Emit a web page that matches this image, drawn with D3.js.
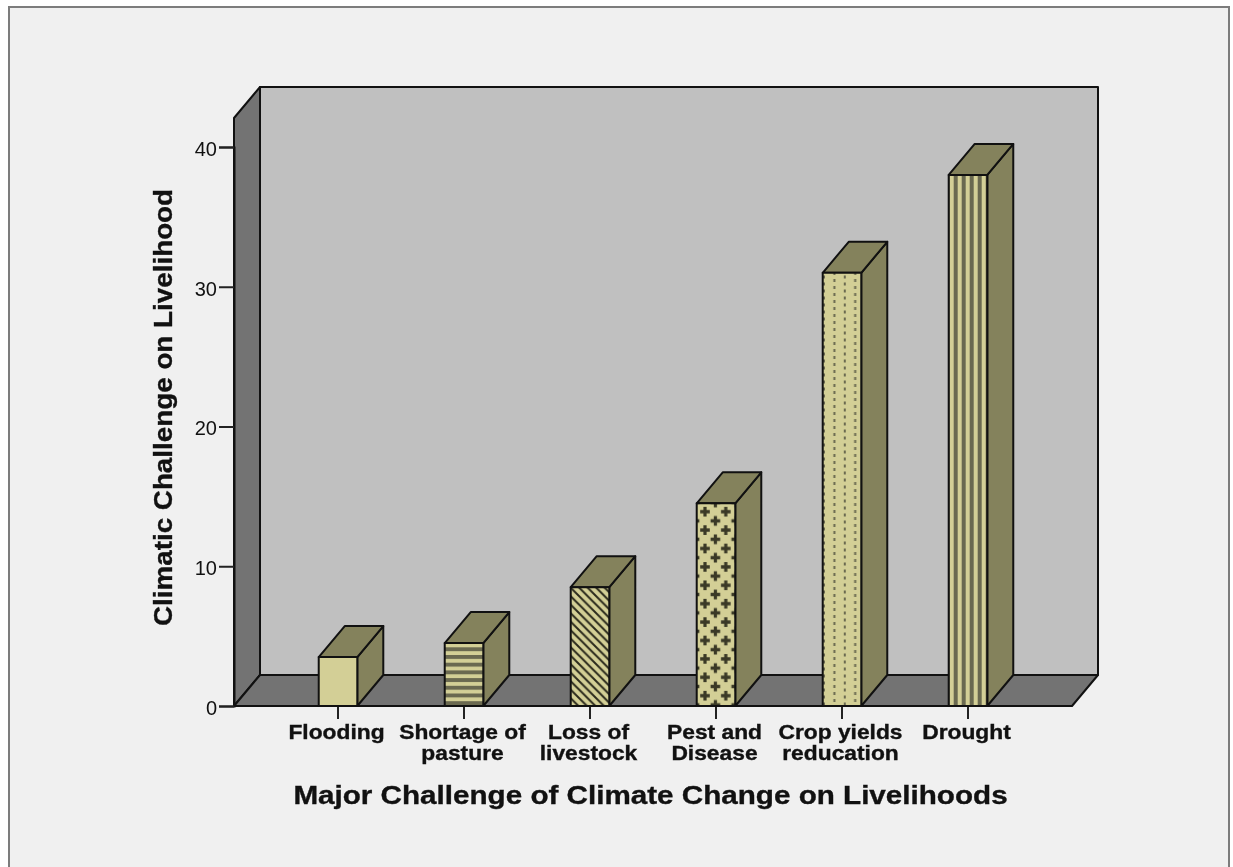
<!DOCTYPE html>
<html><head><meta charset="utf-8">
<script src="https://cdn.jsdelivr.net/npm/d3@7"></script>
<style>html,body{margin:0;padding:0;background:#fff}svg{display:block;filter:blur(0.45px)}
text{font-family:"Liberation Sans",Arial,sans-serif;fill:#111}</style></head>
<body><svg id="c" width="1233" height="867"></svg>
<script>
const categories=["Flooding","Shortage of|pasture","Loss of|livestock","Pest and|Disease","Crop yields|reducation","Drought"];
const values=[3.5,4.5,8.5,14.5,31,38];
const patterns=["none","hlines","diag","plus","dots","vlines"];
const yTicks=[0,10,20,30,40];
const yTitle="Climatic Challenge on Livelihood";
const xTitle="Major Challenge of Climate Change on Livelihoods";
const faceColor="#d3cf96",sideColor="#84825c",inkColor="#6a6950",wallColor="#c0c0c0",floorColor="#737373",bgColor="#f0f0f0",lineColor="#111";
const depthX=26,depthY=31;

const svg=d3.select("#c");
const y=d3.scaleLinear().domain([0,40]).range([706,147]);
const x=d3.scaleBand().domain(categories).range([234,1072]).paddingInner(0.694).paddingOuter(0.6725);

// patterns
const defs=svg.append("defs");
function pat(id,w,h,tx,ty,draw){const p=defs.append("pattern").attr("id",id).attr("patternUnits","userSpaceOnUse").attr("width",w).attr("height",h).attr("patternTransform",`translate(${tx},${ty})`);
 p.append("rect").attr("width",w).attr("height",h).attr("fill",faceColor);draw(p);}
pat("none",8,8,0,0,()=>{});
pat("hlines",8,7.7,0,655,p=>p.append("rect").attr("y",0).attr("width",8).attr("height",3.9).attr("fill",inkColor));
pat("vlines",8,8,953.7,0,p=>p.append("rect").attr("x",0).attr("width",4).attr("height",8).attr("fill",inkColor));
pat("diag",8.5,8.5,0,0,p=>{p.append("path").attr("d","M-2,-2L10.5,10.5M-2,6.5L2,10.5M6.5,-2L10.5,2").attr("stroke","#2b2a1c").attr("stroke-width",2).attr("fill","none");});
pat("plus",20.8,18.4,705,511.7,p=>{
 const g="M-3,-1h2v-2h2v2h2v2h-2v2h-2v-2h-2z";
 [[0,0],[20.8,0],[0,18.4],[20.8,18.4],[10.4,9.2]].forEach(c=>p.append("path").attr("transform",`translate(${c[0]},${c[1]}) scale(1.6)`).attr("d",g).attr("fill","#3a3926"));
});
pat("dots",20.8,7,824,277,p=>{[[0,0],[20.8,0],[0,7],[20.8,7],[10.4,3.5]].forEach(c=>p.append("rect").attr("x",c[0]-1).attr("y",c[1]-1.5).attr("width",2).attr("height",3).attr("fill",inkColor));});

// panel
svg.append("rect").attr("x",9).attr("y",7).attr("width",1220).attr("height",880).attr("fill",bgColor).attr("stroke","#7c7c7c").attr("stroke-width",2);

// 3D walls
const x0=x.range()[0],x1=x.range()[1],y0=y(0),yTop=118;
const stroke=s=>s.attr("stroke",lineColor).attr("stroke-width",2).attr("stroke-linejoin","round");
const poly=(pts,fill,g)=>stroke((g||svg).append("polygon").attr("points",pts.map(p=>p.join(",")).join(" ")).attr("fill",fill));
poly([[x0+depthX,yTop-depthY],[x1+depthX,yTop-depthY],[x1+depthX,y0-depthY],[x0+depthX,y0-depthY]],wallColor);
poly([[x0,yTop],[x0+depthX,yTop-depthY],[x0+depthX,y0-depthY],[x0,y0]],floorColor);
poly([[x0,y0],[x0+depthX,y0-depthY],[x1+depthX,y0-depthY],[x1,y0]],floorColor);

// y axis
const yAxis=svg.append("g").attr("transform",`translate(${x0},0)`).call(d3.axisLeft(y).tickValues(yTicks).tickSize(15).tickPadding(2).tickFormat(d3.format("d")));
yAxis.select(".domain").attr("stroke",lineColor).attr("stroke-width",2);
yAxis.selectAll("line").attr("stroke","#222").attr("stroke-width",2);
yAxis.selectAll("text").attr("font-size",20).attr("dy","0.42em").attr("font-family",'"Liberation Sans",Arial,sans-serif').attr("fill","#222");

// x axis
const xAxis=svg.append("g").attr("transform",`translate(0,${y0})`).call(d3.axisBottom(x).tickSize(13).tickFormat(""));
xAxis.select(".domain").remove();
xAxis.selectAll("line").attr("stroke","#222").attr("stroke-width",2);

// bars
const bars=svg.append("g").selectAll("g").data(categories).join("g");
bars.each(function(c,i){
 const g=d3.select(this),l=x(c),w=x.bandwidth(),r=l+w,t=y(values[i]);
 poly([[r,y0],[r+depthX,y0-depthY],[r+depthX,t-depthY],[r,t]],sideColor,g);
 poly([[l,t],[l+depthX,t-depthY],[r+depthX,t-depthY],[r,t]],sideColor,g);
 poly([[l,t],[r,t],[r,y0],[l,y0]],`url(#${patterns[i]})`,g);
});

// category labels
svg.append("g").selectAll("text").data(categories).join("text")
 .attr("text-anchor","middle").attr("font-weight","bold").attr("font-size",20)
 .attr("stroke","#111").attr("stroke-width",0.35)
 .attr("transform",c=>`translate(${x(c)+x.bandwidth()/2-1.5},0) scale(1.14,1)`)
 .each(function(c){const t=d3.select(this);c.split("|").forEach((s,k)=>t.append("tspan").attr("x",0).attr("y",739+k*21).text(s));});

// axis titles
svg.append("text").attr("transform","translate(650.5,804) scale(1.14,1)").attr("text-anchor","middle").attr("font-weight","bold").attr("font-size",26).attr("stroke","#111").attr("stroke-width",0.35).text(xTitle);
svg.append("text").attr("transform","translate(172,407.5) rotate(-90) scale(1.07,1)").attr("text-anchor","middle").attr("font-weight","bold").attr("font-size",26).attr("stroke","#111").attr("stroke-width",0.35).text(yTitle);
</script></body></html>
